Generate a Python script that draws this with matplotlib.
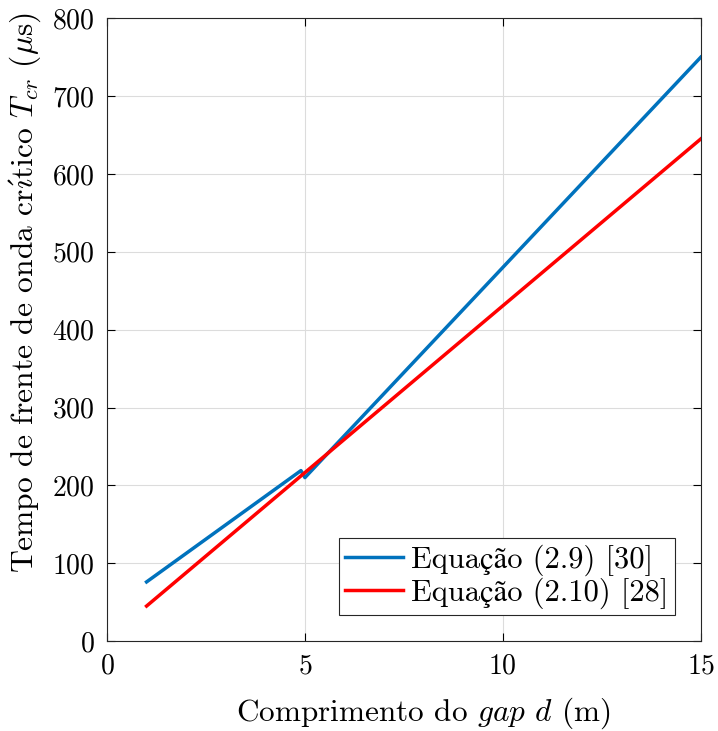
import numpy as np
import matplotlib
matplotlib.use("Agg")
import matplotlib.pyplot as plt

# data
d_eq29 = [1, 4.9, 5, 15]
t_eq29 = [76, 219, 210, 750]
d_eq210 = [1, 15]
t_eq210 = [45, 645]

labels = ['Equação (2.9) [30]', 'Equação (2.10) [28]']
xticks = [0, 5, 10, 15]
yticks = [0, 100, 200, 300, 400, 500, 600, 700, 800]

plt.rcParams['font.family'] = ['cmr10', 'STIXGeneral']
plt.rcParams['mathtext.fontset'] = 'cm'
plt.rcParams['axes.formatter.use_mathtext'] = True
plt.rcParams['font.size'] = 20

fig = plt.figure(figsize=(7.18, 7.31), dpi=100)
ax = fig.add_axes([0.149, 0.123, 0.827, 0.852])

ax.plot(d_eq29, t_eq29, color='#0072BD', lw=2.5, label=labels[0])
ax.plot(d_eq210, t_eq210, color='#FF0000', lw=2.5, label=labels[1])

ax.set_xlim(0, 15)
ax.set_ylim(0, 800)
ax.set_xticks(xticks)
ax.set_yticks(yticks)
ax.grid(True, color='#dcdcdc', lw=0.8)
ax.set_axisbelow(True)
ax.tick_params(direction='in', top=True, right=True, length=6, width=0.8, labelsize=20, pad=9)
for s in ax.spines.values():
    s.set_color('#262626')
    s.set_linewidth(0.8)

ax.set_xlabel(r'Comprimento do $gap$ $d$ (m)', fontsize=22.5)
# cmr10 maps í and µ to wrong glyphs, so write them in mathtext
ax.set_ylabel(r'Tempo de frente de onda cr$\acute{\imath}$tico $T_{cr}$ ($\mu$s)', fontsize=22.7)
ax.xaxis.set_label_coords(0.532, -0.088)
ax.yaxis.set_label_coords(-0.108, 0.56)

leg = ax.legend(loc='lower right', fontsize=22, fancybox=False, framealpha=1,
                edgecolor='#262626', borderpad=0.2, handlelength=1.9,
                handletextpad=0.27, labelspacing=0.05, borderaxespad=0.85)
leg.get_frame().set_linewidth(0.8)

fig.savefig('out.png', dpi=100)
